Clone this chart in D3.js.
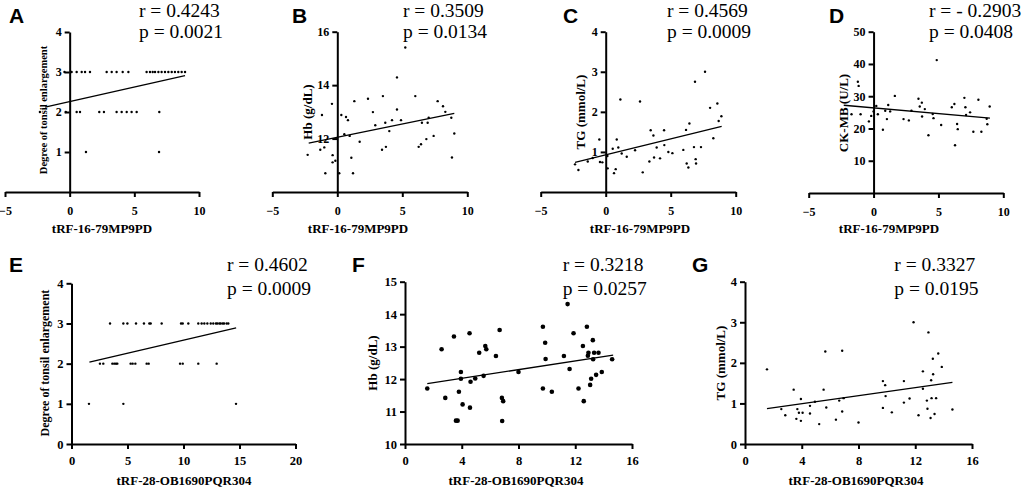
<!DOCTYPE html>
<html>
<head>
<meta charset="utf-8">
<script src="https://cdn.jsdelivr.net/npm/d3@7"></script>
<style>
  html, body { margin: 0; padding: 0; background: #fff; }
  svg { display: block; }
</style>
</head>
<body>
<div id="chart"></div>
<script>
// ---- data ----
const panelLetters = ["A", "B", "C", "D", "E", "F", "G"];
const rTexts = ["r = 0.4243", "r = 0.3509", "r = 0.4569", "r = - 0.2903", "r = 0.4602", "r = 0.3218", "r = 0.3327"];
const pTexts = ["p = 0.0021", "p = 0.0134", "p = 0.0009", "p = 0.0408", "p = 0.0009", "p = 0.0257", "p = 0.0195"];
const xLabels = ["tRF-16-79MP9PD", "tRF-16-79MP9PD", "tRF-16-79MP9PD", "tRF-16-79MP9PD",
  "tRF-28-OB1690PQR304", "tRF-28-OB1690PQR304", "tRF-28-OB1690PQR304"];
const yLabels = ["Degree of tonsil enlargement", "Hb (g/dL)", "TG (mmol/L)", "CK-MB (U/L)",
  "Degree of tonsil enlargement", "Hb (g/dL)", "TG (mmol/L)"];

const xTicksTop = [-5, 0, 5, 10];
const xTicksE = [0, 5, 10, 15, 20];
const xTicksFG = [0, 4, 8, 12, 16];
const yTicksGrade = [1, 2, 3, 4];
const yTicksGradeE = [0, 1, 2, 3, 4];
const yTicksHbB = [12, 14, 16];
const yTicksHbF = [10, 11, 12, 13, 14, 15];
const yTicksTG = [1, 2, 3, 4];
const yTicksTGG = [0, 1, 2, 3, 4];
const yTicksCK = [10, 20, 30, 40, 50];

const pointsA = [
  [-2.3, 2], [-0.3, 2], [-0.4, 3],
  [0.15, 3], [0.54, 3], [0.93, 3], [1.19, 3], [1.57, 3], [2.86, 3], [3.25, 3], [3.63, 3],
  [4.1, 3], [4.54, 3], [5.95, 3], [6.21, 3], [6.42, 3], [6.6, 3], [6.86, 3], [7.11, 3],
  [7.37, 3], [7.63, 3], [7.89, 3], [8.14, 3], [8.4, 3], [8.66, 3], [8.92, 3],
  [0.54, 2], [0.8, 2], [2.29, 2], [2.65, 2], [3.63, 2], [4.02, 2], [4.41, 2], [4.79, 2],
  [5.18, 2], [6.93, 2],
  [1.26, 1], [6.91, 1]
];
const pointsB = [
  [-2.28, 11.39], [-1.31, 11.58], [-1.18, 12.88], [-1.0, 11.67], [-0.92, 10.7], [-0.41, 13.3],
  [-0.36, 11.38], [-0.36, 11.11], [-0.15, 11.17], [0.15, 10.7], [0.31, 12.88], [0.54, 12.16],
  [0.67, 12.81], [0.82, 12.69], [0.95, 12.1], [1.08, 11.28], [1.21, 10.7], [1.31, 13.4],
  [1.72, 11.88], [2.36, 13.49], [2.74, 12.99], [2.92, 12.5], [3.44, 11.58], [3.51, 13.59],
  [3.69, 12.59], [3.74, 11.69], [4.0, 12.28], [4.21, 12.69], [4.59, 13.09], [4.59, 14.29],
  [4.9, 12.69], [5.23, 15.41], [6.0, 13.59], [6.26, 11.69], [6.44, 11.79], [6.51, 12.59],
  [6.85, 11.98], [6.95, 12.59], [7.03, 12.78], [7.41, 12.1], [7.72, 13.4], [8.13, 13.21],
  [8.31, 13.0], [8.77, 12.78], [8.82, 11.29], [9.0, 12.19]
];
const pointsC = [
  [-2.36, 0.69], [-2.1, 0.55], [-1.38, 0.76], [-1.0, 0.85], [-0.49, 1.31], [-0.44, 0.75],
  [-0.26, 0.74], [0.13, 0.9], [0.15, 0.59], [0.54, 1.08], [0.64, 0.47], [0.77, 0.57],
  [0.85, 1.31], [0.97, 1.11], [1.13, 2.31], [1.23, 0.96], [1.62, 0.88], [2.26, 1.04],
  [2.64, 2.26], [2.85, 0.49], [3.36, 0.76], [3.46, 1.54], [3.67, 1.41], [3.72, 0.86],
  [3.92, 1.11], [4.18, 0.84], [4.49, 1.54], [4.51, 1.17], [4.82, 1.0], [5.13, 0.97],
  [5.97, 1.05], [6.18, 1.55], [6.23, 0.71], [6.36, 0.61], [6.44, 1.71], [6.79, 1.12],
  [6.87, 2.75], [6.92, 0.82], [6.95, 0.71], [7.33, 1.12], [7.64, 3.0], [8.03, 2.1],
  [8.28, 1.34], [8.59, 2.21], [8.69, 1.77], [8.9, 1.89]
];
const pointsD = [
  [-1.7, 24.4], [-1.21, 34.5], [-1.15, 33.2], [-1.0, 24.4], [-0.36, 22.2], [-0.18, 23.9],
  [0.0, 25.3], [0.21, 27.0], [0.33, 24.4], [0.72, 19.6], [0.9, 25.5], [1.03, 22.9],
  [1.13, 27.3], [1.28, 25.3], [1.64, 30.1], [2.31, 22.9], [2.72, 22.5], [2.92, 25.5],
  [3.46, 29.2], [3.56, 26.8], [3.72, 28.0], [3.74, 23.7], [3.95, 26.0], [4.23, 17.9],
  [4.56, 24.5], [4.62, 23.2], [4.87, 41.2], [5.21, 21.1], [6.03, 26.6], [6.23, 27.6],
  [6.28, 14.8], [6.44, 21.4], [6.49, 19.8], [7.0, 29.5], [7.08, 26.6], [7.13, 24.2],
  [7.44, 25.0], [7.69, 19.0], [8.08, 28.9], [8.31, 19.0], [8.72, 23.0], [8.77, 21.3],
  [8.95, 26.8]
];
const pointsE = [
  [3.44, 3], [4.63, 3], [4.99, 3], [5.76, 3], [6.47, 3], [6.95, 3], [7.07, 3], [8.05, 3],
  [9.78, 3], [9.93, 3], [10.43, 3], [11.32, 3], [11.62, 3], [11.86, 3], [12.13, 3], [12.43, 3],
  [12.66, 3], [12.9, 3], [13.02, 3], [13.2, 3], [13.32, 3], [13.5, 3], [13.62, 3], [13.85, 3],
  [14.0, 3],
  [2.54, 2], [2.84, 2], [3.65, 2], [3.82, 2], [3.97, 2], [4.09, 2], [5.28, 2], [5.46, 2],
  [5.7, 2], [6.71, 2], [6.89, 2], [9.69, 2], [9.93, 2], [11.32, 2], [12.96, 2],
  [1.56, 1], [4.63, 1], [14.69, 1]
];
const pointsF = [
  [1.57, 11.71], [2.58, 12.92], [2.84, 11.42], [3.45, 13.31], [3.59, 10.72], [3.71, 10.72],
  [3.8, 11.61], [3.94, 12.22], [3.94, 12.01], [4.06, 11.22], [4.55, 13.41], [4.58, 11.12],
  [4.62, 11.92], [4.95, 12.02], [5.23, 12.81], [5.54, 12.1], [5.66, 13.02], [5.73, 12.92],
  [6.41, 12.71], [6.67, 13.51], [6.83, 11.42], [6.92, 11.32], [6.85, 10.71], [8.0, 12.22],
  [9.72, 13.61], [9.72, 11.71], [9.88, 13.12], [9.91, 12.62], [10.35, 11.61], [11.2, 12.71],
  [11.46, 14.31], [11.6, 12.31], [11.88, 13.41], [12.23, 11.71], [12.54, 13.02], [12.6, 11.32],
  [12.82, 13.61], [12.89, 12.72], [12.93, 12.81], [13.05, 11.82], [13.12, 12.01], [13.24, 13.2],
  [13.26, 12.61], [13.33, 12.81], [13.47, 12.13], [13.64, 12.81], [13.87, 12.22], [14.6, 12.61]
];
const pointsG = [
  [1.55, 1.84], [2.56, 0.86], [2.84, 0.71], [3.43, 1.34], [3.62, 0.62], [3.69, 0.86],
  [3.8, 0.77], [3.94, 1.11], [3.94, 0.57], [4.06, 0.77], [4.58, 0.94], [4.58, 0.75],
  [4.93, 1.04], [5.23, 0.49], [5.54, 1.34], [5.66, 2.28], [5.73, 0.9], [6.41, 0.6],
  [6.64, 1.07], [6.85, 2.3], [6.85, 0.8], [6.95, 1.13], [8.0, 0.53], [9.72, 1.55],
  [9.72, 0.89], [9.88, 1.45], [9.91, 1.18], [10.35, 0.78], [11.2, 1.55], [11.2, 1.02],
  [11.6, 1.12], [11.88, 3.0], [12.23, 0.71], [12.54, 1.79], [12.54, 1.36], [12.82, 1.07],
  [12.86, 0.87], [12.93, 2.75], [13.08, 0.64], [13.12, 1.57], [13.15, 1.13], [13.24, 2.1],
  [13.26, 1.72], [13.36, 0.74], [13.47, 1.13], [13.62, 2.23], [13.87, 1.9], [14.62, 0.85]
];

// fitted regression lines (end points)
const fitA = [[-1.9, 2.12], [8.92, 2.91]];
const fitB = [[-2.2, 11.83], [9.0, 12.94]];
const fitC = [[-2.36, 0.74], [8.92, 1.64]];
const fitD = [[-2.3, 27.2], [8.97, 23.2]];
const fitE = [[1.6, 2.04], [14.7, 2.89]];
const fitF = [[1.57, 11.86], [14.67, 12.74]];
const fitG = [[1.55, 0.87], [14.62, 1.52]];

// ---- layout ----
const width = 1026;
const height = 488;
const serif = "'Liberation Serif', 'Times New Roman', serif";
const sans = "'Liberation Sans', Arial, sans-serif";

const svg = d3
  .select("#chart")
  .append("svg")
  .attr("width", width)
  .attr("height", height)
  .style("background", "#fff");

const panels = [
  { xDomain: [-5, 10], xRange: [5, 199], yDomain: [0, 4], yRange: [192, 32], yAxisAt: 0,
    xTicks: xTicksTop, yTicks: yTicksGrade, points: pointsA, fit: fitA, r: 1.2,
    letterPos: [9, 23], statPos: [139, 17, 38], yLabPos: [43, 110, 10.5], xLabPos: [102, 233], tickFont: 12 },
  { xDomain: [-5, 10], xRange: [272.3, 467.3], yDomain: [10, 16], yRange: [192, 31.7], yAxisAt: 0,
    xTicks: xTicksTop, yTicks: yTicksHbB, points: pointsB, fit: fitB, r: 1.2,
    letterPos: [292, 23], statPos: [403, 17, 38], yLabPos: [307, 112, 13], xLabPos: [358, 233], tickFont: 12 },
  { xDomain: [-5, 10], xRange: [540.7, 735.7], yDomain: [0, 4], yRange: [192, 31.7], yAxisAt: 0,
    xTicks: xTicksTop, yTicks: yTicksTG, points: pointsC, fit: fitC, r: 1.2,
    letterPos: [563, 23], statPos: [667, 17, 38], yLabPos: [580, 112, 13], xLabPos: [640, 233], tickFont: 12 },
  { xDomain: [-5, 10], xRange: [808.7, 1003.3], yDomain: [0, 50], yRange: [193, 31.7], yAxisAt: 0,
    xTicks: xTicksTop, yTicks: yTicksCK, points: pointsD, fit: fitD, r: 1.2,
    letterPos: [829, 23], statPos: [929, 17, 38], yLabPos: [843, 113, 13], xLabPos: [889, 233], tickFont: 12 },
  { xDomain: [0, 20], xRange: [71.5, 295.5], yDomain: [0, 4], yRange: [444, 283.3], yAxisAt: 0,
    xTicks: xTicksE, yTicks: yTicksGradeE, points: pointsE, fit: fitE, r: 1.2,
    letterPos: [9, 272], statPos: [227, 271, 295], yLabPos: [45, 363, 12], xLabPos: [184, 485], tickFont: 12.5 },
  { xDomain: [0, 16], xRange: [405, 632], yDomain: [10, 15], yRange: [444, 281.7], yAxisAt: 0,
    xTicks: xTicksFG, yTicks: yTicksHbF, points: pointsF, fit: fitF, r: 2.3,
    letterPos: [352, 272], statPos: [562.7, 271, 295], yLabPos: [372, 363, 13], xLabPos: [516, 485], tickFont: 12.5 },
  { xDomain: [0, 16], xRange: [745, 972], yDomain: [0, 4], yRange: [444, 281.7], yAxisAt: 0,
    xTicks: xTicksFG, yTicks: yTicksTGG, points: pointsG, fit: fitG, r: 1.2,
    letterPos: [692, 272], statPos: [894.3, 271, 295], yLabPos: [720, 363, 13], xLabPos: [856, 485], tickFont: 12.5 }
];

function styleAxis(g, fontSize) {
  g.attr("font-family", null).attr("font-size", null);
  g.select(".domain").attr("stroke", "#000").attr("stroke-width", 2);
  g.selectAll(".tick line").attr("stroke", "#000").attr("stroke-width", 2);
  g.selectAll(".tick text")
    .attr("fill", "#000")
    .style("font-family", serif)
    .style("font-weight", "bold")
    .style("font-size", `${fontSize}px`);
}

function drawPanel(cfg, i) {
  const x = d3.scaleLinear().domain(cfg.xDomain).range(cfg.xRange);
  const y = d3.scaleLinear().domain(cfg.yDomain).range(cfg.yRange);
  const g = svg.append("g");

  // points
  g.append("g")
    .selectAll("circle")
    .data(cfg.points)
    .join("circle")
    .attr("cx", (d) => x(d[0]))
    .attr("cy", (d) => y(d[1]))
    .attr("r", cfg.r)
    .attr("fill", "#000");

  // regression line
  const line = d3
    .line()
    .x((d) => x(d[0]))
    .y((d) => y(d[1]));
  g.append("path")
    .datum(cfg.fit)
    .attr("fill", "none")
    .attr("stroke", "#000")
    .attr("stroke-width", 1.3)
    .attr("d", line);

  // x axis
  const gx = g
    .append("g")
    .attr("transform", `translate(0,${y(cfg.yDomain[0])})`)
    .call(
      d3.axisBottom(x).tickValues(cfg.xTicks).tickSize(5).tickSizeOuter(0)
        .tickPadding(i < 4 ? 9 : 7).tickFormat(d3.format("d"))
    );
  styleAxis(gx, cfg.tickFont);

  // y axis, crossing the x axis at x = 0
  const gy = g
    .append("g")
    .attr("transform", `translate(${x(cfg.yAxisAt)},0)`)
    .call(
      d3.axisLeft(y).tickValues(cfg.yTicks).tickSize(5).tickSizeOuter(0)
        .tickPadding(3).tickFormat(d3.format("d"))
    );
  styleAxis(gy, cfg.tickFont);

  // panel letter
  g.append("text")
    .attr("x", cfg.letterPos[0])
    .attr("y", cfg.letterPos[1])
    .style("font-family", sans)
    .style("font-weight", "bold")
    .style("font-size", "21px")
    .text(panelLetters[i]);

  // r / p values
  const [sx, ry, py] = cfg.statPos;
  [[rTexts[i], ry], [pTexts[i], py]].forEach(([t, ty]) => {
    g.append("text")
      .attr("x", sx)
      .attr("y", ty)
      .style("font-family", serif)
      .style("font-size", "19.5px")
      .text(t);
  });

  // y label
  g.append("text")
    .attr("transform", `translate(${cfg.yLabPos[0]},${cfg.yLabPos[1]}) rotate(-90)`)
    .attr("text-anchor", "middle")
    .attr("dy", "0.35em")
    .style("font-family", serif)
    .style("font-weight", "bold")
    .style("font-size", `${cfg.yLabPos[2]}px`)
    .text(yLabels[i]);

  // x label
  g.append("text")
    .attr("x", cfg.xLabPos[0])
    .attr("y", cfg.xLabPos[1])
    .attr("text-anchor", "middle")
    .style("font-family", serif)
    .style("font-weight", "bold")
    .style("font-size", "13px")
    .text(xLabels[i]);
}

panels.forEach(drawPanel);
</script>
</body>
</html>
